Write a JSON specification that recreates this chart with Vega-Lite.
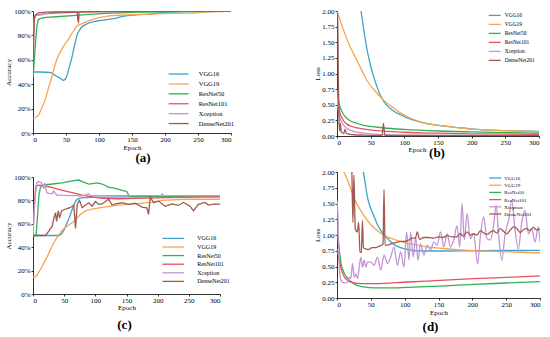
{
"$schema": "https://vega.github.io/schema/vega-lite/v6.json",
"padding": {"left": 4, "top": 7, "right": 0, "bottom": 0},
"background": "white",
"config": {
  "font": "Liberation Serif",
  "view": {"stroke": null},
  "axis": {"grid": false, "domainColor": "#000", "tickColor": "#000", "labelColor": "#000", "titleColor": "#000", "labelFontSize": 7, "titleFontSize": 7, "titleFontWeight": "normal", "tickSize": 2, "domainWidth": 0.8, "tickWidth": 0.8, "labelFont": "Liberation Serif", "titleFont": "Liberation Serif", "labelPadding": 0},
  "legend": {"padding": 0, "labelFont": "Liberation Serif", "labelColor": "#000", "symbolStrokeWidth": 1.5, "symbolSize": 16, "title": null},
  "title": {"orient": "bottom", "fontSize": 13, "fontWeight": "bold", "font": "Liberation Serif", "color": "#000", "frame": "group"},
  "line": {"strokeWidth": 1.3}
},
"resolve": {"legend": {"color": "independent"}, "scale": {"color": "independent"}},
"spacing": 78,
"datasets": {
"a": [
{"m":"VGG16","e":0,"v":50},{"m":"VGG16","e":10,"v":50},{"m":"VGG16","e":20,"v":49.8},{"m":"VGG16","e":28,"v":49.5},{"m":"VGG16","e":31,"v":48},{"m":"VGG16","e":36,"v":46.5},{"m":"VGG16","e":41,"v":45},{"m":"VGG16","e":46,"v":43},{"m":"VGG16","e":49,"v":44},{"m":"VGG16","e":52,"v":48},{"m":"VGG16","e":55,"v":54},{"m":"VGG16","e":59,"v":62},{"m":"VGG16","e":63,"v":72},{"m":"VGG16","e":67,"v":81},{"m":"VGG16","e":70,"v":84},{"m":"VGG16","e":74,"v":87},{"m":"VGG16","e":80,"v":89},{"m":"VGG16","e":84,"v":90},{"m":"VGG16","e":90,"v":91},{"m":"VGG16","e":99,"v":92},{"m":"VGG16","e":110,"v":92.8},{"m":"VGG16","e":125,"v":94},{"m":"VGG16","e":135,"v":95.5},{"m":"VGG16","e":140,"v":96},{"m":"VGG16","e":160,"v":97},{"m":"VGG16","e":175,"v":97.5},{"m":"VGG16","e":200,"v":99},{"m":"VGG16","e":230,"v":99.5},{"m":"VGG16","e":260,"v":99.8},{"m":"VGG16","e":300,"v":100},
{"m":"VGG19","e":0,"v":12},{"m":"VGG19","e":3,"v":12.5},{"m":"VGG19","e":6,"v":13.5},{"m":"VGG19","e":9,"v":15},{"m":"VGG19","e":13,"v":20},{"m":"VGG19","e":17,"v":25},{"m":"VGG19","e":20,"v":30},{"m":"VGG19","e":24,"v":38},{"m":"VGG19","e":27,"v":43},{"m":"VGG19","e":30,"v":49},{"m":"VGG19","e":34,"v":57},{"m":"VGG19","e":38,"v":63},{"m":"VGG19","e":42,"v":67},{"m":"VGG19","e":46,"v":71},{"m":"VGG19","e":50,"v":74},{"m":"VGG19","e":54,"v":77},{"m":"VGG19","e":58,"v":81},{"m":"VGG19","e":62,"v":84},{"m":"VGG19","e":67,"v":88},{"m":"VGG19","e":72,"v":89},{"m":"VGG19","e":78,"v":90.5},{"m":"VGG19","e":89,"v":93},{"m":"VGG19","e":100,"v":94.5},{"m":"VGG19","e":115,"v":96},{"m":"VGG19","e":130,"v":96.5},{"m":"VGG19","e":150,"v":97},{"m":"VGG19","e":180,"v":97.5},{"m":"VGG19","e":210,"v":98},{"m":"VGG19","e":241,"v":98.3},{"m":"VGG19","e":260,"v":99},{"m":"VGG19","e":280,"v":99.5},{"m":"VGG19","e":300,"v":99.7},
{"m":"ResNet50","e":0,"v":45},{"m":"ResNet50","e":2,"v":60},{"m":"ResNet50","e":4,"v":75},{"m":"ResNet50","e":6,"v":88},{"m":"ResNet50","e":8,"v":93},{"m":"ResNet50","e":12,"v":94},{"m":"ResNet50","e":20,"v":94.8},{"m":"ResNet50","e":40,"v":95.5},{"m":"ResNet50","e":60,"v":96.2},{"m":"ResNet50","e":80,"v":97},{"m":"ResNet50","e":110,"v":98},{"m":"ResNet50","e":160,"v":99},{"m":"ResNet50","e":220,"v":99.5},{"m":"ResNet50","e":300,"v":99.8},
{"m":"ResNet101","e":0,"v":47},{"m":"ResNet101","e":1,"v":75},{"m":"ResNet101","e":2,"v":93},{"m":"ResNet101","e":4,"v":96.5},{"m":"ResNet101","e":10,"v":97},{"m":"ResNet101","e":20,"v":97.8},{"m":"ResNet101","e":40,"v":98.5},{"m":"ResNet101","e":70,"v":99},{"m":"ResNet101","e":100,"v":99.5},{"m":"ResNet101","e":150,"v":99.8},{"m":"ResNet101","e":300,"v":100},
{"m":"Xception","e":0,"v":55},{"m":"Xception","e":1,"v":88},{"m":"Xception","e":2,"v":95},{"m":"Xception","e":5,"v":96.5},{"m":"Xception","e":15,"v":97},{"m":"Xception","e":25,"v":98.5},{"m":"Xception","e":35,"v":99.5},{"m":"Xception","e":300,"v":100},
{"m":"DenseNet201","e":0,"v":48},{"m":"DenseNet201","e":1,"v":80},{"m":"DenseNet201","e":2,"v":95},{"m":"DenseNet201","e":4,"v":97},{"m":"DenseNet201","e":8,"v":98.5},{"m":"DenseNet201","e":20,"v":99},{"m":"DenseNet201","e":67,"v":99.3},{"m":"DenseNet201","e":68,"v":92},{"m":"DenseNet201","e":69,"v":91},{"m":"DenseNet201","e":70,"v":99.3},{"m":"DenseNet201","e":100,"v":99.6},{"m":"DenseNet201","e":300,"v":100}
],
"b": [
{"m":"VGG16","e":35.7,"v":2.0},{"m":"VGG16","e":40,"v":1.68},{"m":"VGG16","e":45,"v":1.36},{"m":"VGG16","e":50,"v":1.12},{"m":"VGG16","e":55,"v":0.93},{"m":"VGG16","e":60,"v":0.77},{"m":"VGG16","e":64,"v":0.66},{"m":"VGG16","e":69,"v":0.56},{"m":"VGG16","e":74,"v":0.49},{"m":"VGG16","e":84,"v":0.4},{"m":"VGG16","e":94,"v":0.34},{"m":"VGG16","e":104,"v":0.29},{"m":"VGG16","e":115,"v":0.25},{"m":"VGG16","e":129,"v":0.21},{"m":"VGG16","e":154,"v":0.165},{"m":"VGG16","e":180,"v":0.135},{"m":"VGG16","e":203,"v":0.11},{"m":"VGG16","e":250,"v":0.087},{"m":"VGG16","e":300,"v":0.072},
{"m":"VGG19","e":0,"v":2.0},{"m":"VGG19","e":5,"v":1.84},{"m":"VGG19","e":12,"v":1.63},{"m":"VGG19","e":18,"v":1.46},{"m":"VGG19","e":25,"v":1.31},{"m":"VGG19","e":35,"v":1.09},{"m":"VGG19","e":45,"v":0.88},{"m":"VGG19","e":55,"v":0.74},{"m":"VGG19","e":65,"v":0.62},{"m":"VGG19","e":75,"v":0.52},{"m":"VGG19","e":85,"v":0.44},{"m":"VGG19","e":94,"v":0.37},{"m":"VGG19","e":104,"v":0.31},{"m":"VGG19","e":115,"v":0.26},{"m":"VGG19","e":129,"v":0.21},{"m":"VGG19","e":154,"v":0.165},{"m":"VGG19","e":180,"v":0.13},{"m":"VGG19","e":203,"v":0.107},{"m":"VGG19","e":250,"v":0.085},{"m":"VGG19","e":300,"v":0.07},
{"m":"ResNet50","e":0,"v":0.72},{"m":"ResNet50","e":2,"v":0.58},{"m":"ResNet50","e":4,"v":0.48},{"m":"ResNet50","e":7,"v":0.4},{"m":"ResNet50","e":10,"v":0.34},{"m":"ResNet50","e":15,"v":0.28},{"m":"ResNet50","e":20,"v":0.24},{"m":"ResNet50","e":30,"v":0.2},{"m":"ResNet50","e":40,"v":0.17},{"m":"ResNet50","e":60,"v":0.14},{"m":"ResNet50","e":80,"v":0.12},{"m":"ResNet50","e":100,"v":0.105},{"m":"ResNet50","e":150,"v":0.08},{"m":"ResNet50","e":200,"v":0.065},{"m":"ResNet50","e":250,"v":0.055},{"m":"ResNet50","e":300,"v":0.045},
{"m":"ResNet101","e":0,"v":0.75},{"m":"ResNet101","e":2,"v":0.5},{"m":"ResNet101","e":4,"v":0.38},{"m":"ResNet101","e":7,"v":0.3},{"m":"ResNet101","e":10,"v":0.24},{"m":"ResNet101","e":15,"v":0.19},{"m":"ResNet101","e":20,"v":0.16},{"m":"ResNet101","e":30,"v":0.13},{"m":"ResNet101","e":40,"v":0.11},{"m":"ResNet101","e":60,"v":0.085},{"m":"ResNet101","e":100,"v":0.06},{"m":"ResNet101","e":150,"v":0.045},{"m":"ResNet101","e":200,"v":0.035},{"m":"ResNet101","e":300,"v":0.025},
{"m":"Xception","e":0,"v":0.62},{"m":"Xception","e":2,"v":0.4},{"m":"Xception","e":4,"v":0.3},{"m":"Xception","e":7,"v":0.22},{"m":"Xception","e":10,"v":0.17},{"m":"Xception","e":15,"v":0.12},{"m":"Xception","e":20,"v":0.09},{"m":"Xception","e":30,"v":0.06},{"m":"Xception","e":40,"v":0.045},{"m":"Xception","e":60,"v":0.025},{"m":"Xception","e":100,"v":0.012},{"m":"Xception","e":200,"v":0.007},{"m":"Xception","e":300,"v":0.005},
{"m":"DenseNet201","e":0,"v":2.0},{"m":"DenseNet201","e":1,"v":2.0},{"m":"DenseNet201","e":2,"v":0.9},{"m":"DenseNet201","e":3,"v":0.25},{"m":"DenseNet201","e":4,"v":0.08},{"m":"DenseNet201","e":5,"v":0.2},{"m":"DenseNet201","e":6,"v":0.08},{"m":"DenseNet201","e":8,"v":0.05},{"m":"DenseNet201","e":10,"v":0.04},{"m":"DenseNet201","e":12,"v":0.11},{"m":"DenseNet201","e":14,"v":0.04},{"m":"DenseNet201","e":18,"v":0.03},{"m":"DenseNet201","e":25,"v":0.02},{"m":"DenseNet201","e":40,"v":0.015},{"m":"DenseNet201","e":67,"v":0.01},{"m":"DenseNet201","e":69,"v":0.2},{"m":"DenseNet201","e":71,"v":0.01},{"m":"DenseNet201","e":100,"v":0.008},{"m":"DenseNet201","e":300,"v":0.004}
],
"c": [
{"m":"VGG16","e":0,"v":50},{"m":"VGG16","e":42,"v":50},{"m":"VGG16","e":46,"v":51.5},{"m":"VGG16","e":50,"v":55},{"m":"VGG16","e":54,"v":60},{"m":"VGG16","e":58,"v":65},{"m":"VGG16","e":62,"v":71},{"m":"VGG16","e":66,"v":77},{"m":"VGG16","e":70,"v":80.5},{"m":"VGG16","e":74,"v":82},{"m":"VGG16","e":90,"v":82.5},{"m":"VGG16","e":150,"v":83},{"m":"VGG16","e":300,"v":83.2},
{"m":"VGG19","e":0,"v":14.3},{"m":"VGG19","e":5,"v":15},{"m":"VGG19","e":12,"v":20.9},{"m":"VGG19","e":17.6,"v":26.6},{"m":"VGG19","e":23,"v":32},{"m":"VGG19","e":28,"v":38},{"m":"VGG19","e":33.6,"v":44},{"m":"VGG19","e":41.6,"v":51},{"m":"VGG19","e":49.5,"v":56},{"m":"VGG19","e":57.5,"v":59},{"m":"VGG19","e":65.5,"v":62},{"m":"VGG19","e":76,"v":68},{"m":"VGG19","e":84,"v":71},{"m":"VGG19","e":95,"v":72.6},{"m":"VGG19","e":111,"v":74},{"m":"VGG19","e":137,"v":76},{"m":"VGG19","e":164,"v":77},{"m":"VGG19","e":191,"v":78.6},{"m":"VGG19","e":207,"v":80},{"m":"VGG19","e":244,"v":81},{"m":"VGG19","e":300,"v":81},
{"m":"ResNet50","e":0,"v":50},{"m":"ResNet50","e":5,"v":50},{"m":"ResNet50","e":7,"v":65},{"m":"ResNet50","e":9.6,"v":85},{"m":"ResNet50","e":12,"v":91},{"m":"ResNet50","e":15,"v":93},{"m":"ResNet50","e":31,"v":94},{"m":"ResNet50","e":47,"v":95},{"m":"ResNet50","e":63,"v":96.6},{"m":"ResNet50","e":73.5,"v":97.4},{"m":"ResNet50","e":79,"v":96},{"m":"ResNet50","e":89.5,"v":94},{"m":"ResNet50","e":103,"v":95},{"m":"ResNet50","e":111,"v":94},{"m":"ResNet50","e":121,"v":91.4},{"m":"ResNet50","e":132,"v":90.3},{"m":"ResNet50","e":143,"v":88.6},{"m":"ResNet50","e":151,"v":87.4},{"m":"ResNet50","e":154,"v":83.7},{"m":"ResNet50","e":164,"v":83.3},{"m":"ResNet50","e":200,"v":83.5},{"m":"ResNet50","e":250,"v":83.5},{"m":"ResNet50","e":300,"v":83.5},
{"m":"ResNet101","e":0,"v":50},{"m":"ResNet101","e":2,"v":75},{"m":"ResNet101","e":4.3,"v":92},{"m":"ResNet101","e":10,"v":93},{"m":"ResNet101","e":20,"v":92.3},{"m":"ResNet101","e":31,"v":91},{"m":"ResNet101","e":47,"v":88.6},{"m":"ResNet101","e":63,"v":86.6},{"m":"ResNet101","e":79,"v":84.6},{"m":"ResNet101","e":95,"v":83},{"m":"ResNet101","e":111,"v":81.7},{"m":"ResNet101","e":137,"v":81.4},{"m":"ResNet101","e":164,"v":81.7},{"m":"ResNet101","e":217,"v":82.3},{"m":"ResNet101","e":271,"v":83},{"m":"ResNet101","e":300,"v":83},
{"m":"Xception","e":0,"v":50},{"m":"Xception","e":3,"v":80},{"m":"Xception","e":6,"v":95},{"m":"Xception","e":8,"v":96.2},{"m":"Xception","e":12,"v":95.4},{"m":"Xception","e":15,"v":94},{"m":"Xception","e":17.6,"v":90},{"m":"Xception","e":19,"v":95},{"m":"Xception","e":22,"v":86.6},{"m":"Xception","e":26,"v":86},{"m":"Xception","e":31,"v":85.7},{"m":"Xception","e":33,"v":88},{"m":"Xception","e":38,"v":84.6},{"m":"Xception","e":45,"v":84.5},{"m":"Xception","e":57.5,"v":84},{"m":"Xception","e":70,"v":84},{"m":"Xception","e":79,"v":83.7},{"m":"Xception","e":89.5,"v":85.7},{"m":"Xception","e":92,"v":84},{"m":"Xception","e":150,"v":84},{"m":"Xception","e":205,"v":84},{"m":"Xception","e":207,"v":85.7},{"m":"Xception","e":210,"v":84},{"m":"Xception","e":300,"v":84},
{"m":"DenseNet201","e":0,"v":50},{"m":"DenseNet201","e":20.2,"v":50},{"m":"DenseNet201","e":25.6,"v":54},{"m":"DenseNet201","e":30.9,"v":58},{"m":"DenseNet201","e":33.6,"v":65},{"m":"DenseNet201","e":36.2,"v":69.4},{"m":"DenseNet201","e":37.8,"v":62},{"m":"DenseNet201","e":40.5,"v":71},{"m":"DenseNet201","e":42.6,"v":65},{"m":"DenseNet201","e":45.8,"v":71},{"m":"DenseNet201","e":49.5,"v":72},{"m":"DenseNet201","e":54.9,"v":73},{"m":"DenseNet201","e":60.2,"v":74},{"m":"DenseNet201","e":65.5,"v":76},{"m":"DenseNet201","e":68.2,"v":56},{"m":"DenseNet201","e":70.9,"v":76.6},{"m":"DenseNet201","e":74.6,"v":80},{"m":"DenseNet201","e":78.8,"v":73.7},{"m":"DenseNet201","e":84.2,"v":76},{"m":"DenseNet201","e":89.5,"v":78},{"m":"DenseNet201","e":94.8,"v":75},{"m":"DenseNet201","e":100.2,"v":79},{"m":"DenseNet201","e":105.5,"v":76.6},{"m":"DenseNet201","e":110.8,"v":77},{"m":"DenseNet201","e":116.1,"v":79},{"m":"DenseNet201","e":121.5,"v":81},{"m":"DenseNet201","e":126.8,"v":76},{"m":"DenseNet201","e":132.1,"v":77},{"m":"DenseNet201","e":142.8,"v":78},{"m":"DenseNet201","e":153.4,"v":76.6},{"m":"DenseNet201","e":164.1,"v":77.7},{"m":"DenseNet201","e":174.7,"v":74.3},{"m":"DenseNet201","e":182.7,"v":73.7},{"m":"DenseNet201","e":185.4,"v":68},{"m":"DenseNet201","e":188.1,"v":83},{"m":"DenseNet201","e":193.4,"v":78},{"m":"DenseNet201","e":201.4,"v":79.4},{"m":"DenseNet201","e":212,"v":75},{"m":"DenseNet201","e":222.7,"v":77},{"m":"DenseNet201","e":233.3,"v":75.7},{"m":"DenseNet201","e":241.3,"v":78.3},{"m":"DenseNet201","e":252,"v":75},{"m":"DenseNet201","e":257.3,"v":71},{"m":"DenseNet201","e":265.3,"v":76.6},{"m":"DenseNet201","e":276,"v":78.3},{"m":"DenseNet201","e":281.3,"v":76},{"m":"DenseNet201","e":292,"v":77},{"m":"DenseNet201","e":300,"v":76.6}
],
"d": [
{"m":"VGG16","e":39,"v":2.0},{"m":"VGG16","e":42,"v":1.8},{"m":"VGG16","e":45,"v":1.6},{"m":"VGG16","e":50,"v":1.42},{"m":"VGG16","e":55,"v":1.29},{"m":"VGG16","e":60,"v":1.16},{"m":"VGG16","e":65,"v":1.07},{"m":"VGG16","e":70,"v":1.0},{"m":"VGG16","e":75,"v":0.94},{"m":"VGG16","e":84,"v":0.85},{"m":"VGG16","e":94,"v":0.8},{"m":"VGG16","e":104,"v":0.77},{"m":"VGG16","e":128,"v":0.746},{"m":"VGG16","e":153,"v":0.746},{"m":"VGG16","e":200,"v":0.75},{"m":"VGG16","e":300,"v":0.757},
{"m":"VGG19","e":10,"v":2.0},{"m":"VGG19","e":15.7,"v":1.87},{"m":"VGG19","e":25.5,"v":1.58},{"m":"VGG19","e":35,"v":1.39},{"m":"VGG19","e":45,"v":1.23},{"m":"VGG19","e":55,"v":1.11},{"m":"VGG19","e":69.6,"v":0.995},{"m":"VGG19","e":84,"v":0.93},{"m":"VGG19","e":104,"v":0.87},{"m":"VGG19","e":128,"v":0.82},{"m":"VGG19","e":153,"v":0.79},{"m":"VGG19","e":177,"v":0.767},{"m":"VGG19","e":202,"v":0.75},{"m":"VGG19","e":251,"v":0.735},{"m":"VGG19","e":300,"v":0.714},
{"m":"ResNet50","e":0,"v":1.15},{"m":"ResNet50","e":3.4,"v":0.76},{"m":"ResNet50","e":6,"v":0.55},{"m":"ResNet50","e":11,"v":0.39},{"m":"ResNet50","e":15.7,"v":0.31},{"m":"ResNet50","e":23,"v":0.24},{"m":"ResNet50","e":30,"v":0.2},{"m":"ResNet50","e":40,"v":0.175},{"m":"ResNet50","e":55,"v":0.16},{"m":"ResNet50","e":79,"v":0.16},{"m":"ResNet50","e":104,"v":0.17},{"m":"ResNet50","e":153,"v":0.19},{"m":"ResNet50","e":202,"v":0.217},{"m":"ResNet50","e":251,"v":0.238},{"m":"ResNet50","e":300,"v":0.26},
{"m":"ResNet101","e":0,"v":0.78},{"m":"ResNet101","e":3.4,"v":0.6},{"m":"ResNet101","e":6,"v":0.47},{"m":"ResNet101","e":11,"v":0.33},{"m":"ResNet101","e":15.7,"v":0.28},{"m":"ResNet101","e":25.5,"v":0.24},{"m":"ResNet101","e":35,"v":0.228},{"m":"ResNet101","e":55,"v":0.228},{"m":"ResNet101","e":104,"v":0.254},{"m":"ResNet101","e":153,"v":0.28},{"m":"ResNet101","e":202,"v":0.307},{"m":"ResNet101","e":251,"v":0.328},{"m":"ResNet101","e":300,"v":0.35},
{"m":"Xception","e":0,"v":1.55},{"m":"Xception","e":1,"v":1.39},{"m":"Xception","e":3.4,"v":0.49},{"m":"Xception","e":5.9,"v":0.28},{"m":"Xception","e":10.8,"v":0.24},{"m":"Xception","e":15.7,"v":0.25},{"m":"Xception","e":18.1,"v":0.33},{"m":"Xception","e":20.6,"v":0.31},{"m":"Xception","e":23,"v":0.55},{"m":"Xception","e":25.5,"v":0.33},{"m":"Xception","e":27.9,"v":0.38},{"m":"Xception","e":30.4,"v":0.31},{"m":"Xception","e":32.8,"v":0.49},{"m":"Xception","e":35.3,"v":0.65},{"m":"Xception","e":37.7,"v":0.49},{"m":"Xception","e":40.2,"v":0.6},{"m":"Xception","e":42.6,"v":0.49},{"m":"Xception","e":45.1,"v":0.57},{"m":"Xception","e":50,"v":0.57},{"m":"Xception","e":54.9,"v":0.52},{"m":"Xception","e":59.8,"v":0.65},{"m":"Xception","e":64.7,"v":0.44},{"m":"Xception","e":69.6,"v":0.68},{"m":"Xception","e":74.5,"v":0.55},{"m":"Xception","e":79.4,"v":0.65},{"m":"Xception","e":84.3,"v":0.81},{"m":"Xception","e":89.2,"v":0.52},{"m":"Xception","e":94.1,"v":0.73},{"m":"Xception","e":99,"v":0.49},{"m":"Xception","e":102.9,"v":1.05},{"m":"Xception","e":106.4,"v":0.6},{"m":"Xception","e":108.8,"v":1.05},{"m":"Xception","e":112.7,"v":0.65},{"m":"Xception","e":116.2,"v":0.97},{"m":"Xception","e":119.6,"v":0.6},{"m":"Xception","e":123.5,"v":0.86},{"m":"Xception","e":128.4,"v":0.68},{"m":"Xception","e":133.3,"v":0.84},{"m":"Xception","e":138.2,"v":0.76},{"m":"Xception","e":143.1,"v":0.89},{"m":"Xception","e":148,"v":0.84},{"m":"Xception","e":152.9,"v":1.05},{"m":"Xception","e":157.8,"v":0.81},{"m":"Xception","e":162.7,"v":1.02},{"m":"Xception","e":167.6,"v":0.81},{"m":"Xception","e":172.5,"v":0.92},{"m":"Xception","e":177.5,"v":1.15},{"m":"Xception","e":181.4,"v":0.81},{"m":"Xception","e":184.8,"v":1.5},{"m":"Xception","e":188.2,"v":0.92},{"m":"Xception","e":192.2,"v":1.34},{"m":"Xception","e":197,"v":0.94},{"m":"Xception","e":202,"v":1.02},{"m":"Xception","e":207.8,"v":0.54},{"m":"Xception","e":211.8,"v":0.97},{"m":"Xception","e":216.7,"v":1.29},{"m":"Xception","e":221.6,"v":0.94},{"m":"Xception","e":226.5,"v":0.92},{"m":"Xception","e":231.4,"v":1.15},{"m":"Xception","e":235.3,"v":1.47},{"m":"Xception","e":238.7,"v":1.02},{"m":"Xception","e":243.6,"v":0.6},{"m":"Xception","e":248.5,"v":1.02},{"m":"Xception","e":253.4,"v":1.23},{"m":"Xception","e":258.3,"v":1.55},{"m":"Xception","e":263.2,"v":1.07},{"m":"Xception","e":268.1,"v":0.78},{"m":"Xception","e":273,"v":1.2},{"m":"Xception","e":277.9,"v":1.39},{"m":"Xception","e":282.8,"v":1.02},{"m":"Xception","e":287.7,"v":1.1},{"m":"Xception","e":292.6,"v":0.89},{"m":"Xception","e":297.5,"v":1.13},{"m":"Xception","e":300,"v":0.89},
{"m":"DenseNet201","e":20,"v":2.4},{"m":"DenseNet201","e":22,"v":2.0},{"m":"DenseNet201","e":23.5,"v":1.2},{"m":"DenseNet201","e":25,"v":1.95},{"m":"DenseNet201","e":27,"v":1.1},{"m":"DenseNet201","e":30,"v":1.05},{"m":"DenseNet201","e":32,"v":1.2},{"m":"DenseNet201","e":34,"v":0.73},{"m":"DenseNet201","e":36,"v":0.72},{"m":"DenseNet201","e":37.7,"v":1.23},{"m":"DenseNet201","e":39,"v":0.8},{"m":"DenseNet201","e":42,"v":0.78},{"m":"DenseNet201","e":47,"v":0.77},{"m":"DenseNet201","e":52,"v":0.8},{"m":"DenseNet201","e":57,"v":0.8},{"m":"DenseNet201","e":62,"v":0.82},{"m":"DenseNet201","e":66,"v":0.84},{"m":"DenseNet201","e":68,"v":0.86},{"m":"DenseNet201","e":69.5,"v":1.72},{"m":"DenseNet201","e":71,"v":0.84},{"m":"DenseNet201","e":75,"v":0.84},{"m":"DenseNet201","e":80,"v":0.86},{"m":"DenseNet201","e":87,"v":0.88},{"m":"DenseNet201","e":94,"v":0.9},{"m":"DenseNet201","e":100,"v":0.9},{"m":"DenseNet201","e":106,"v":0.92},{"m":"DenseNet201","e":111,"v":0.95},{"m":"DenseNet201","e":116,"v":0.95},{"m":"DenseNet201","e":118.6,"v":1.05},{"m":"DenseNet201","e":122,"v":0.93},{"m":"DenseNet201","e":128,"v":0.96},{"m":"DenseNet201","e":135,"v":0.96},{"m":"DenseNet201","e":143,"v":0.95},{"m":"DenseNet201","e":150,"v":0.97},{"m":"DenseNet201","e":157,"v":0.96},{"m":"DenseNet201","e":163,"v":0.99},{"m":"DenseNet201","e":170,"v":0.97},{"m":"DenseNet201","e":177,"v":0.97},{"m":"DenseNet201","e":182,"v":1.02},{"m":"DenseNet201","e":187,"v":0.98},{"m":"DenseNet201","e":192,"v":1.05},{"m":"DenseNet201","e":197,"v":1.0},{"m":"DenseNet201","e":202,"v":1.02},{"m":"DenseNet201","e":207,"v":1.0},{"m":"DenseNet201","e":212,"v":1.07},{"m":"DenseNet201","e":217,"v":1.03},{"m":"DenseNet201","e":222,"v":1.01},{"m":"DenseNet201","e":227,"v":1.05},{"m":"DenseNet201","e":231,"v":1.07},{"m":"DenseNet201","e":236,"v":1.03},{"m":"DenseNet201","e":241,"v":1.1},{"m":"DenseNet201","e":246,"v":1.06},{"m":"DenseNet201","e":251,"v":1.02},{"m":"DenseNet201","e":256,"v":1.08},{"m":"DenseNet201","e":261,"v":1.13},{"m":"DenseNet201","e":266,"v":1.1},{"m":"DenseNet201","e":270.6,"v":1.04},{"m":"DenseNet201","e":275,"v":1.08},{"m":"DenseNet201","e":280,"v":1.1},{"m":"DenseNet201","e":285,"v":1.07},{"m":"DenseNet201","e":290,"v":1.12},{"m":"DenseNet201","e":295,"v":1.08},{"m":"DenseNet201","e":300,"v":1.1}
]
},
"hconcat": [
{
"spacing": 8,
"resolve": {"legend": {"color": "independent"}, "scale": {"color": "independent"}},
"vconcat": [
{
"width": 198, "height": 122,
"title": {"text": "(a)", "dx": 11, "offset": 2},
"data": {"name": "a"},
"mark": {"type": "line", "clip": true},
"encoding": {
"x": {"field": "e", "type": "quantitative", "scale": {"domain": [0, 300], "nice": false}, "axis": {"values": [0,50,100,150,200,250,300], "title": "Epoch", "titlePadding": 1}},
"y": {"field": "v", "type": "quantitative", "scale": {"domain": [0, 100], "nice": false}, "axis": {"values": [0,20,40,60,80,100], "labelExpr": "datum.value + '%'", "title": "Accuracy", "titlePadding": 2, "labelPadding": 1}},
"color": {"field": "m", "type": "nominal", "scale": {"domain": ["VGG16","VGG19","ResNet50","ResNet101","Xception","DenseNet201"], "range": ["#3ca3cb","#f9a54f","#30b057","#e9505c","#c495d6","#a05a50"]},
  "legend": {"orient": "none", "legendX": 142.4, "legendY": 59.8, "symbolType": "M-5,0H5", "labelFontSize": 6.5, "rowPadding": 2.9, "labelOffset": 16.8}}
}
},
{
"width": 187, "height": 117,
"title": {"text": "(c)", "dx": -2, "offset": 9},
"data": {"name": "c"},
"mark": {"type": "line", "clip": true},
"encoding": {
"x": {"field": "e", "type": "quantitative", "scale": {"domain": [0, 300], "nice": false}, "axis": {"values": [0,50,100,150,200,250,300], "title": "Epoch", "titlePadding": 0}},
"y": {"field": "v", "type": "quantitative", "scale": {"domain": [0, 100], "nice": false}, "axis": {"values": [0,20,40,60,80,100], "labelExpr": "datum.value + '%'", "title": "Accuracy", "titlePadding": 2, "labelPadding": 1}},
"color": {"field": "m", "type": "nominal", "scale": {"domain": ["VGG16","VGG19","ResNet50","ResNet101","Xception","DenseNet201"], "range": ["#3ca3cb","#f9a54f","#30b057","#e9505c","#c495d6","#a05a50"]},
  "legend": {"orient": "none", "legendX": 137.2, "legendY": 58.4, "symbolType": "M-5.4,0H5.4", "labelFontSize": 6, "rowPadding": 2.6, "labelOffset": 21}}
}
}
]
},
{
"spacing": 8,
"resolve": {"legend": {"color": "independent"}, "scale": {"color": "independent"}},
"vconcat": [
{
"width": 202, "height": 125,
"title": {"text": "(b)", "dx": -1, "offset": -5},
"data": {"name": "b"},
"mark": {"type": "line", "interpolate": "monotone", "clip": true},
"encoding": {
"x": {"field": "e", "type": "quantitative", "scale": {"domain": [0, 300], "nice": false}, "axis": {"values": [0,50,100,150,200,250,300], "title": "Epoch", "titlePadding": 0, "titleX": 80}},
"y": {"field": "v", "type": "quantitative", "scale": {"domain": [0, 2], "nice": false}, "axis": {"values": [0,0.25,0.5,0.75,1,1.25,1.5,1.75,2], "format": ".2f", "title": "Loss", "titlePadding": 1, "labelPadding": 1}},
"color": {"field": "m", "type": "nominal", "scale": {"domain": ["VGG16","VGG19","ResNet50","ResNet101","Xception","DenseNet201"], "range": ["#3ca3cb","#f9a54f","#30b057","#e9505c","#c495d6","#a05a50"]},
  "legend": {"orient": "none", "legendX": 154.7, "legendY": 1.4, "symbolType": "M-3,0H3", "labelFontSize": 5.5, "rowPadding": 2.0, "labelOffset": 7}}
}
},
{
"width": 203, "height": 126,
"title": {"text": "(d)", "dx": -8, "offset": 6},
"data": {"name": "d"},
"mark": {"type": "line", "interpolate": "monotone", "clip": true},
"encoding": {
"x": {"field": "e", "type": "quantitative", "scale": {"domain": [0, 300], "nice": false}, "axis": {"values": [0,50,100,150,200,250,300], "title": "Epoch", "titlePadding": 1}},
"y": {"field": "v", "type": "quantitative", "scale": {"domain": [0, 2], "nice": false}, "axis": {"values": [0,0.25,0.5,0.75,1,1.25,1.5,1.75,2], "format": ".2f", "title": "Loss", "titlePadding": 1, "labelPadding": 1}},
"color": {"field": "m", "type": "nominal", "scale": {"domain": ["VGG16","VGG19","ResNet50","ResNet101","Xception","DenseNet201"], "range": ["#3ca3cb","#f9a54f","#30b057","#e9505c","#c495d6","#a05a50"]},
  "legend": {"orient": "none", "legendX": 155.3, "legendY": 3, "symbolType": "M-3,0H3", "labelFontSize": 5, "rowPadding": 1.2, "labelOffset": 6}}
}
}
]
}
]
}
